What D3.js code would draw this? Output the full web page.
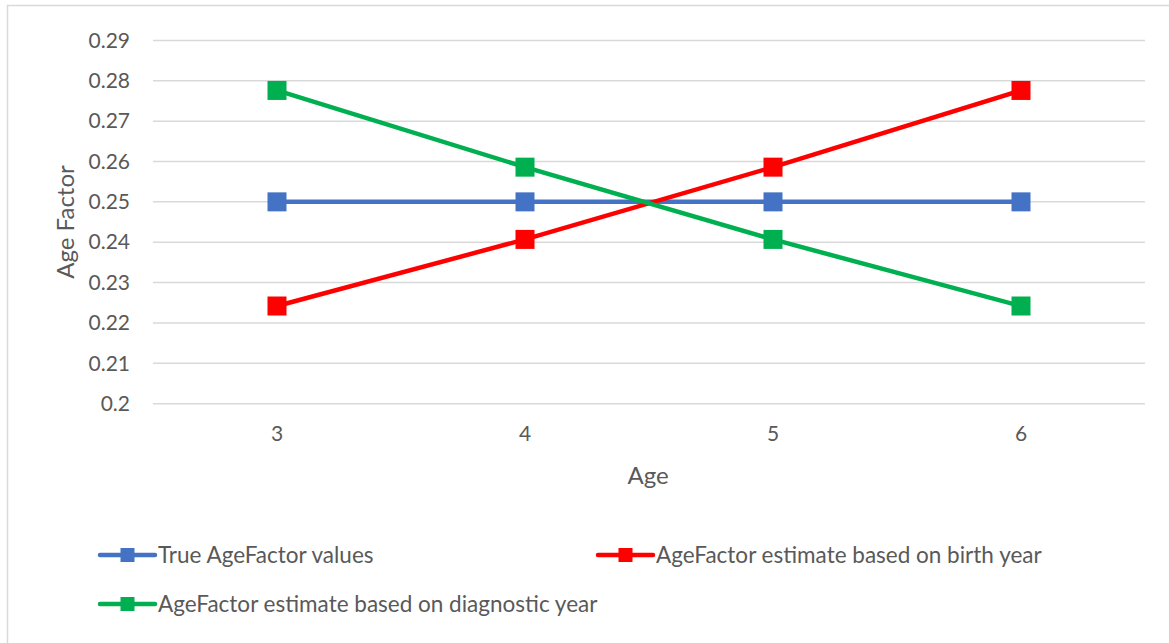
<!DOCTYPE html>
<html><head><meta charset="utf-8">
<script src="https://cdn.jsdelivr.net/npm/d3@7"></script>
<style>body{margin:0;background:#fff}svg{display:block}text{font-family:Lato,"Open Sans",sans-serif;fill:#595959}</style>
</head><body><svg id="c" width="1169" height="643"></svg>
<script>
const categories = ["3","4","5","6"];
const seriesNames = ["True AgeFactor values","AgeFactor estimate based on birth year","AgeFactor estimate based on diagnostic year"];
const trueValues = [0.25,0.25,0.25,0.25];
const birthYearValues = [0.2242,0.2407,0.2586,0.2776];
const diagYearValues = [0.2776,0.2586,0.2407,0.2242];
const yTicks = [0.2,0.21,0.22,0.23,0.24,0.25,0.26,0.27,0.28,0.29];
const colors = ["#4472C4","#FF0000","#00B050"];

const svg = d3.select("#c");
svg.append("rect").attr("x",7.5).attr("y",5.5).attr("width",1170).attr("height",650)
  .attr("fill","#fff").attr("stroke","#d9d9d9").attr("stroke-width",1.5);

const x = d3.scaleBand().domain(categories).range([153,1145]);
const y = d3.scaleLinear().domain([0.2,0.29]).range([403.7,40.4]);

const g = svg.append("g");
g.selectAll("line.grid").data(yTicks).join("line")
  .attr("x1",153).attr("x2",1145).attr("y1",d=>y(d)).attr("y2",d=>y(d))
  .attr("stroke","#d9d9d9").attr("stroke-width",1.5);

const fontFam = "Lato,'Open Sans',sans-serif";
const yAxis = d3.axisLeft(y).tickValues(yTicks).tickFormat(d=>d3.format("")(+d.toFixed(2))).tickSize(0).tickPadding(0);
const ya = svg.append("g").attr("transform","translate(130,0)").call(yAxis);
ya.select(".domain").remove();
ya.selectAll("text").attr("font-size",21).attr("fill","#595959").style("font-family",fontFam);

const xAxis = d3.axisBottom(x).tickSize(0).tickPadding(0);
const xa = svg.append("g").attr("transform","translate(0,426)").call(xAxis);
xa.select(".domain").remove();
xa.selectAll("text").attr("font-size",21).attr("fill","#595959").style("font-family",fontFam);

svg.append("text").attr("x",648).attr("y",484).attr("text-anchor","middle").attr("font-size",24).text("Age");
svg.append("text").attr("transform","translate(74,222) rotate(-90)").attr("text-anchor","middle").attr("font-size",24).text("Age Factor");

const allSeries = [trueValues,birthYearValues,diagYearValues];
const cx = d=>x(d)+x.bandwidth()/2;
const line = d3.line().x((d,i)=>cx(categories[i])).y(d=>y(d));
allSeries.forEach((vals,k)=>{
  svg.append("path").datum(vals).attr("d",line).attr("fill","none")
    .attr("stroke",colors[k]).attr("stroke-width",4.5).attr("stroke-linejoin","round");
  svg.selectAll(null).data(vals).join("rect")
    .attr("x",(d,i)=>cx(categories[i])-9.5).attr("y",d=>y(d)-9.5)
    .attr("width",19).attr("height",19).attr("fill",colors[k]);
});

const legendPos = [[100,555],[598,555],[100,604]];
seriesNames.forEach((name,k)=>{
  const [lx,ly] = legendPos[k];
  svg.append("line").attr("x1",lx).attr("x2",lx+55).attr("y1",ly).attr("y2",ly)
    .attr("stroke",colors[k]).attr("stroke-width",4.5).attr("stroke-linecap","round");
  svg.append("rect").attr("x",lx+27.5-7).attr("y",ly-7).attr("width",14).attr("height",14).attr("fill",colors[k]);
  svg.append("text").attr("x",lx+58).attr("y",ly+8).attr("font-size",22.5).text(name);
});
</script></body></html>
